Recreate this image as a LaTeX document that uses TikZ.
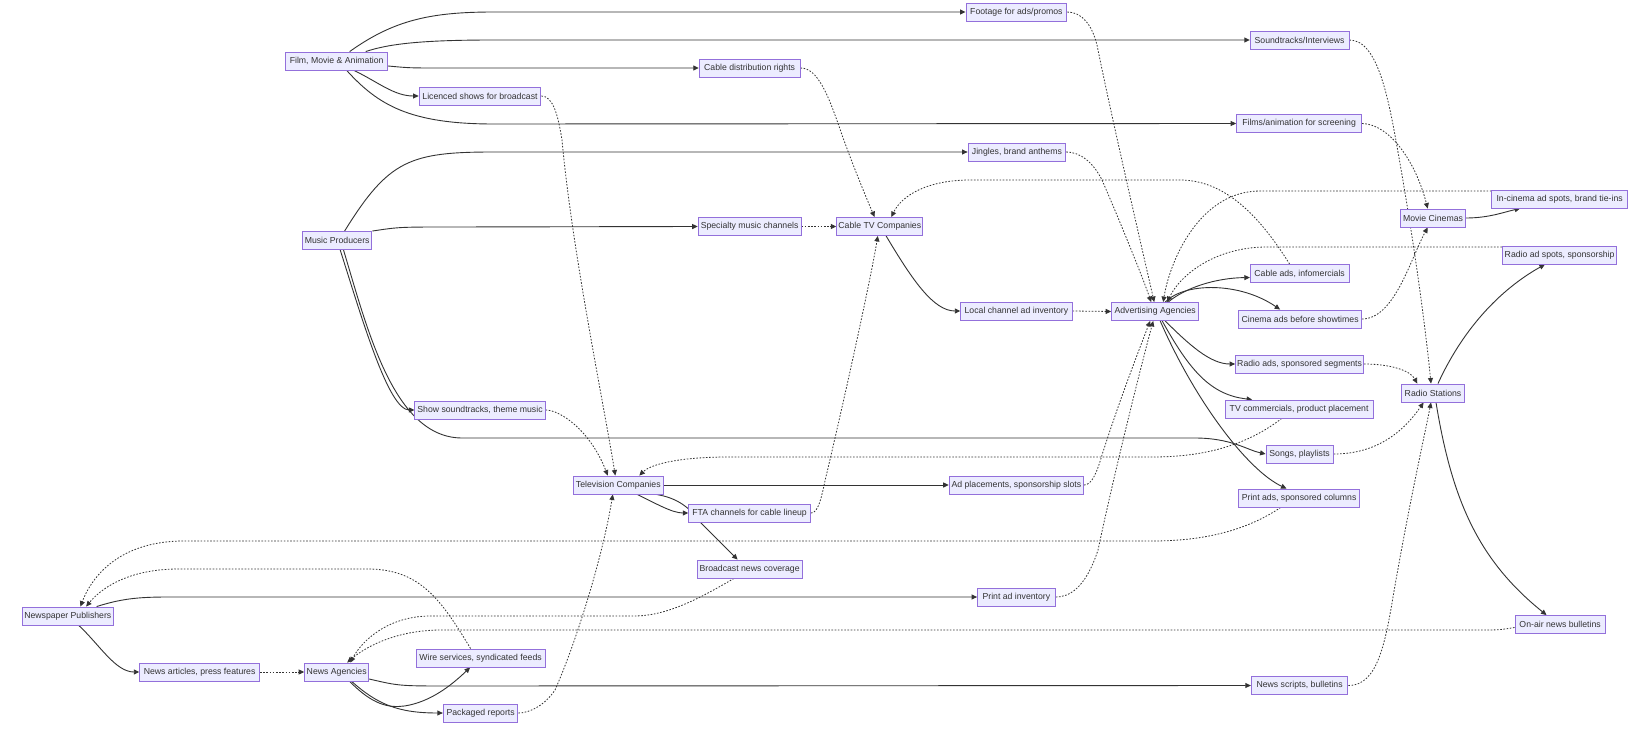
\documentclass[tikz,border=0pt]{standalone}
\usepackage{fontspec}
\setmainfont{Liberation Sans}
\usetikzlibrary{arrows.meta,backgrounds}
\definecolor{boxfill}{HTML}{ECECFF}
\definecolor{boxline}{HTML}{9370DB}
\definecolor{edgec}{HTML}{333333}
\definecolor{textc}{HTML}{333333}
\begin{document}
\begin{tikzpicture}[x=1pt,y=-1pt,
  box/.style={draw=boxline, fill=boxfill, line width=0.9pt, minimum height=18pt,
    inner sep=0pt, font=\fontsize{8.7}{9}\selectfont, text=textc},
  e/.style={draw=edgec, line width=0.9pt, -{Triangle[length=5.5pt,width=5pt]}},
  d/.style={e, line width=0.8pt, dash pattern=on 1.6pt off 1.6pt}]
\useasboundingbox (0,0) rectangle (1647,746);
% nodes
\node[box,minimum width=101.9] (film) at (336.7,61) {Film, Movie \& Animation};
\node[box,minimum width=121.8] (licenced) at (480,96) {Licenced shows for broadcast};
\node[box,minimum width=69.3] (music) at (337.2,240.5) {Music Producers};
\node[box,minimum width=100.8] (footage) at (1016.4,12) {Footage for ads/promos};
\node[box,minimum width=100.8] (cabledist) at (749.6,68) {Cable distribution rights};
\node[box,minimum width=97.7] (jingles) at (1016.9,152) {Jingles, brand anthems};
\node[box,minimum width=102.9] (specialty) at (749.6,226.5) {Specialty music channels};
\node[box,minimum width=86.1] (cabletv) at (879.8,226.5) {Cable TV Companies};
\node[box,minimum width=98.7] (soundtracks) at (1299.6,40) {Soundtracks/Interviews};
\node[box,minimum width=125] (filmsanim) at (1299.1,123.5) {Films/animation for screening};
\node[box,minimum width=135.5] (incinema) at (1559.6,199) {In-cinema ad spots, brand tie-ins};
\node[box,minimum width=65.1] (cinemas) at (1433,218) {Movie Cinemas};
\node[box,minimum width=114.5] (radiospots) at (1559.6,255) {Radio ad spots, sponsorship};
\node[box,minimum width=98.7] (cableads) at (1299.6,273.5) {Cable ads, infomercials};
\node[box,minimum width=87.2] (adv) at (1155.2,311.5) {Advertising Agencies};
\node[box,minimum width=122.9] (cinemaads) at (1300.1,319) {Cinema ads before showtimes};
\node[box,minimum width=128.1] (radioads) at (1299.6,364) {Radio ads, sponsored segments};
\node[box,minimum width=63] (radio) at (1433,393) {Radio Stations};
\node[box,minimum width=148.1] (tvcomm) at (1299.1,409) {TV commercials, product placement};
\node[box,minimum width=67.2] (songs) at (1299.6,454) {Songs, playlists};
\node[box,minimum width=120.8] (printads) at (1299.1,498) {Print ads, sponsored columns};
\node[box,minimum width=111.3] (local) at (1016.4,311) {Local channel ad inventory};
\node[box,minimum width=90.3] (tv) at (618.3,485) {Television Companies};
\node[box,minimum width=134.5] (adplace) at (1016.4,485) {Ad placements, sponsorship slots};
\node[box,minimum width=130.2] (show) at (480,410) {Show soundtracks, theme music};
\node[box,minimum width=121.8] (fta) at (749.6,513) {FTA channels for cable lineup};
\node[box,minimum width=105] (bnews) at (749.6,569) {Broadcast news coverage};
\node[box,minimum width=77.7] (printinv) at (1016.4,597) {Print ad inventory};
\node[box,minimum width=91.4] (newspaper) at (67.8,616) {Newspaper Publishers};
\node[box,minimum width=119.7] (articles) at (199.6,672) {News articles, press features};
\node[box,minimum width=64.1] (agencies) at (336.7,672) {News Agencies};
\node[box,minimum width=129.2] (wire) at (480.6,658) {Wire services, syndicated feeds};
\node[box,minimum width=74.6] (packaged) at (480.6,713) {Packaged reports};
\node[box,minimum width=90.3] (onair) at (1560.1,624.5) {On-air news bulletins};
\node[box,minimum width=96.6] (scripts) at (1299.6,685.5) {News scripts, bulletins};
\begin{scope}[on background layer]
\fill[white] (0,0) rectangle (1647,746);
% solid edges
\draw[e] ([xshift=13]film.north) .. controls (393.9,20) and (430.7,12) .. (493.7,12) -- (footage.west);
\draw[e] ([xshift=29]film.north) .. controls (388.6,44) and (420.2,40) .. (493.7,40) -- (soundtracks.west);
\draw[e] ([yshift=-5]film.east) .. controls (409.7,68) .. (441.2,68) -- (cabledist.west);
\draw[e] ([xshift=17.3]film.south) .. controls (378.1,82) and (393.9,96) .. (licenced.west);
\draw[e] ([xshift=10]film.south) .. controls (378.1,105) and (409.7,124) .. (493.7,124) -- (filmsanim.west);
\draw[e] ([xshift=7.4]music.north) .. controls (388.6,160) and (409.7,152) .. (493.7,152) -- (jingles.west);
\draw[e] (music.north east) .. controls (399.2,227) .. (451.7,227) -- (specialty.west);
\draw[e] ([xshift=3]music.south) .. controls (362.4,320) and (388.6,410) .. (show.west);
\draw[e] ([xshift=6.3]music.south) .. controls (367.6,330) and (393.9,438) .. (462.2,438) -- (1194.6,438) .. controls (1231.3,438) and (1247.1,450) .. (songs.west);
\draw[e] ([xshift=6.3]cabletv.south) .. controls (912.4,280) and (933.4,311) .. (local.west);
\draw[e] (tv.east) -- (adplace.west);
\draw[e] ([xshift=19]tv.south) .. controls (655,503) and (672,513) .. (fta.west);
\draw[e] ([xshift=38]tv.south) .. controls (678,498) and (690,508) .. (700,522) -- ([xshift=-12]bnews.north);
\draw[e] ([xshift=13]adv.north) .. controls (1185,288) and (1215,278) .. ([yshift=-4]cableads.west);
\draw[e] ([xshift=10]adv.north) .. controls (1185,282) and (1240,282) .. ([xshift=-20]cinemaads.north);
\draw[e] ([xshift=10]adv.south) .. controls (1189.4,345) and (1210.4,364) .. (radioads.west);
\draw[e] ([xshift=7]adv.south) .. controls (1189.4,370) and (1210.4,395) .. ([xshift=-47]tvcomm.north);
\draw[e] ([xshift=5]adv.south) .. controls (1194.6,400) and (1247.1,470) .. ([xshift=-12.6]printads.north);
\draw[e] (cinemas.east) .. controls (1488.7,218) and (1504.4,212) .. ([xshift=-39.4]incinema.south);
\draw[e] ([xshift=5]radio.north) .. controls (1462.4,330) and (1499.2,290) .. ([xshift=-14.7]radiospots.south);
\draw[e] ([xshift=3]radio.south) .. controls (1451.9,500) and (1478.2,560) .. ([xshift=-13.6]onair.north);
\draw[e] ([xshift=28.8]newspaper.north) .. controls (120.8,599) and (136.6,597) .. (168.1,597) -- (printinv.west);
\draw[e] ([xshift=11]newspaper.south) .. controls (99.8,645) and (115.5,672) .. (articles.west);
\draw[e] ([xshift=13]agencies.south) .. controls (372.9,705) and (388.6,708) .. (404.4,706) .. controls (430.7,702) and (451.7,685) .. ([xshift=-10.5]wire.south);
\draw[e] ([xshift=15]agencies.south) .. controls (378.1,705) and (399.2,713) .. (packaged.west);
\draw[e] ([yshift=-7]agencies.east) .. controls (399.2,686) .. (451.7,686) -- (scripts.west);
% dotted edges
\draw[d] (footage.east) .. controls (1082,12) and (1092,25) .. (1097,45) .. controls (1110,110) and (1140,240) .. ([xshift=-1]adv.north);
\draw[d] (jingles.east) .. controls (1080,152) and (1093,162) .. (1102,180) .. controls (1115,210) and (1140,270) .. ([xshift=-4]adv.north);
\draw[d] (local.east) -- (adv.west);
\draw[d] ([yshift=8]incinema.west) -- (1260,191) .. controls (1200,191) and (1170,260) .. ([xshift=8]adv.north);
\draw[d] ([yshift=8]radiospots.west) -- (1267,247) .. controls (1215,247) and (1180,275) .. ([xshift=12]adv.north);
\draw[d] ([xshift=-10]cableads.north) .. controls (1265,225) and (1230,180) .. (1180,180) -- (970.2,180) .. controls (928.2,180) and (902,195) .. ([xshift=11.5]cabletv.north);
\draw[d] (cinemaads.east) .. controls (1394.2,319) and (1410,260) .. ([xshift=-5.3]cinemas.south);
\draw[d] (filmsanim.east) .. controls (1388.9,124) and (1415.2,160) .. ([xshift=-5.3]cinemas.north);
\draw[d] (soundtracks.east) .. controls (1378.4,40) and (1388.9,100) .. (1399.4,160) .. controls (1415.2,250) and (1425.7,330) .. ([xshift=-2]radio.north);
\draw[d] (radioads.east) .. controls (1388.9,364) and (1410,370) .. ([xshift=-15.7]radio.north);
\draw[d] (songs.east) .. controls (1378.4,454) and (1404.6,430) .. ([xshift=-9.4]radio.south);
\draw[d] (scripts.east) .. controls (1378.4,686) and (1385.8,640) .. (1394.2,590) .. controls (1410,500) and (1423.6,440) .. ([xshift=-2]radio.south);
\draw[d] (cabledist.east) .. controls (817.9,68) and (828.4,95) .. (842,135) .. controls (854.6,170) and (867.2,200) .. ([xshift=-5.2]cabletv.north);
\draw[d] (specialty.east) -- (cabletv.west);
\draw[d] (fta.east) .. controls (817.9,513) and (821,500) .. (825.2,480) .. controls (844.2,400) and (870.5,280) .. ([xshift=-2]cabletv.south);
\draw[d] (licenced.east) .. controls (553,96) and (558,115) .. (562,140) .. controls (572,250) and (603,400) .. ([xshift=-3]tv.north);
\draw[d] (show.east) .. controls (560,410) and (590,430) .. ([xshift=-10.5]tv.north);
\draw[d] ([xshift=-17.4]tvcomm.south) .. controls (1247.1,445) and (1205,457) .. (1152.6,457) -- (728.6,457) .. controls (676.1,457) and (649.8,465) .. ([xshift=21]tv.north);
\draw[d] (packaged.east) .. controls (530,713) and (545,705) .. (555,690) .. controls (575,645) and (602,560) .. ([xshift=-5.5]tv.south);
\draw[d] ([xshift=-18.4]printads.south) .. controls (1247.1,530) and (1205,541) .. (1152.6,541) -- (183.8,541) .. controls (126,541) and (94.5,570) .. ([xshift=12.6]newspaper.north);
\draw[d] ([xshift=-10]wire.north) .. controls (441.2,600) and (420.2,569) .. (367.6,569) -- (178.6,569) .. controls (126,569) and (99.8,590) .. ([xshift=18.3]newspaper.north);
\draw[d] ([xshift=-15.7]bnews.south) .. controls (697.1,600) and (665.6,616) .. (634,616) -- (430.7,616) .. controls (388.6,616) and (362.4,640) .. ([xshift=13.6]agencies.north);
\draw[d] ([yshift=-3]onair.west) .. controls (1499.2,630) .. (1478.2,630) -- (441.2,630) .. controls (399.2,630) and (367.6,645) .. ([xshift=10.5]agencies.north);
\draw[d] (articles.east) -- (agencies.west);
\draw[d] (adplace.east) .. controls (1092,485) and (1097,472) .. (1102,455) .. controls (1118,405) and (1135,360) .. ([xshift=-5]adv.south);
\draw[d] (printinv.east) .. controls (1068,597) and (1085,590) .. (1098,550) .. controls (1115,470) and (1140,370) .. ([xshift=-2]adv.south);
\end{scope}
\end{tikzpicture}
\end{document}
